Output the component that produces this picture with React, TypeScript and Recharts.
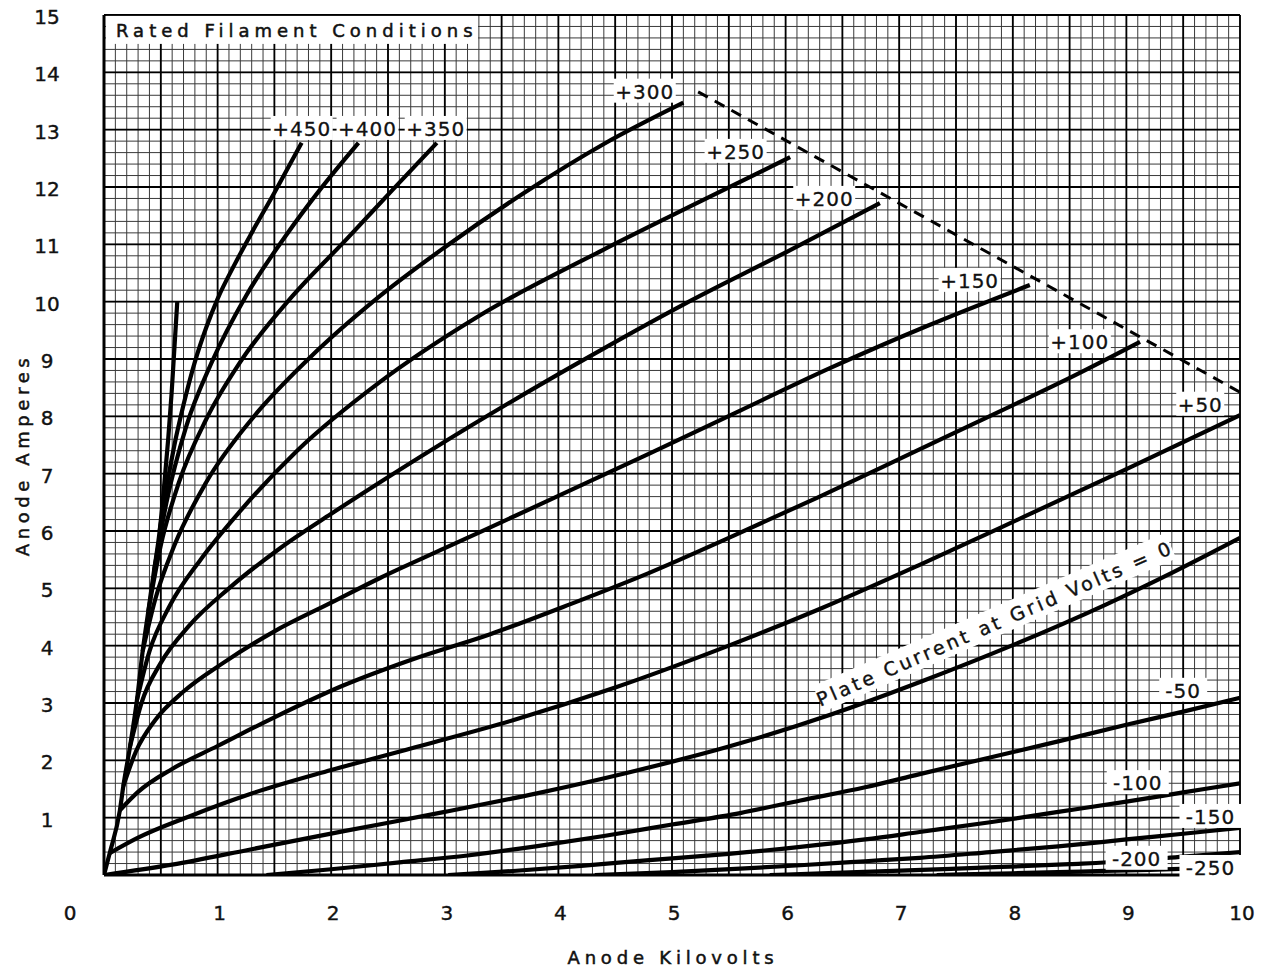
import { LineChart, Line, XAxis, YAxis, CartesianGrid, ReferenceDot } from 'recharts'

// anode kilovolts / anode amperes, one list per grid voltage
const diodeLine = [[0, 0], [0.05, 0.38], [0.14, 1.13], [0.17, 1.55], [0.23, 2.25], [0.29, 3.05], [0.34, 3.9], [0.39, 4.6], [0.44, 5.3], [0.49, 6.0], [0.53, 6.8], [0.565, 7.6], [0.595, 8.4], [0.62, 9.2], [0.645, 10.0]]
const grid450 = [[0.49, 6.0], [0.55, 6.75], [0.62, 7.5], [0.7, 8.2], [0.8, 8.95], [0.9, 9.55], [1.0, 10.05], [1.15, 10.65], [1.3, 11.2], [1.5, 11.9], [1.74, 12.77]]
const grid400 = [[0.44, 5.3], [0.55, 6.5], [0.72, 7.8], [0.95, 8.95], [1.25, 10.1], [1.6, 11.15], [1.9, 11.95], [2.24, 12.77]]
const grid350 = [[0.39, 4.6], [0.5, 5.75], [0.66, 6.85], [0.9, 7.95], [1.2, 8.95], [1.66, 10.1], [2.14, 11.1], [2.54, 11.95], [2.93, 12.77]]
const grid300 = [[0.34, 3.9], [0.45, 4.8], [0.62, 5.75], [0.9, 6.85], [1.3, 7.95], [1.8, 9.0], [2.43, 10.1], [3.0, 10.95], [3.7, 11.9], [4.4, 12.75], [5.1, 13.47]]
const grid250 = [[0.29, 3.05], [0.4, 3.9], [0.58, 4.7], [0.85, 5.5], [1.2, 6.35], [1.7, 7.4], [2.43, 8.6], [3.3, 9.75], [4.39, 10.9], [5.2, 11.7], [6.04, 12.52]]
const grid200 = [[0.23, 2.25], [0.33, 3.0], [0.5, 3.7], [0.75, 4.35], [1.1, 5.0], [1.55, 5.7], [2.0, 6.3], [2.43, 6.85], [3.2, 7.8], [4.19, 8.95], [5.1, 9.95], [6.04, 10.9], [6.83, 11.72]]
const grid150 = [[0.17, 1.55], [0.28, 2.15], [0.45, 2.7], [0.7, 3.2], [1.05, 3.7], [1.5, 4.25], [2.0, 4.75], [2.43, 5.18], [3.0, 5.7], [3.9, 6.52], [4.8, 7.35], [5.6, 8.1], [6.39, 8.84], [7.25, 9.58], [8.15, 10.29]]
const grid100 = [[0.14, 1.13], [0.3, 1.45], [0.6, 1.85], [1.0, 2.25], [1.5, 2.75], [2.1, 3.3], [2.7, 3.75], [3.4, 4.2], [4.1, 4.72], [4.8, 5.27], [5.5, 5.88], [6.3, 6.6], [7.1, 7.35], [7.9, 8.1], [8.55, 8.72], [9.12, 9.3]]
const grid50 = [[0.05, 0.38], [0.3, 0.65], [0.75, 1.02], [1.3, 1.42], [2.0, 1.83], [2.8, 2.26], [3.6, 2.7], [4.5, 3.27], [5.5, 4.0], [6.3, 4.64], [7.18, 5.41], [8.1, 6.25], [9.0, 7.08], [10, 8.02]]
const grid0 = [[0, 0], [0.6, 0.18], [1.3, 0.45], [2.1, 0.76], [3.0, 1.1], [3.8, 1.42], [4.6, 1.78], [5.5, 2.24], [6.4, 2.8], [7.2, 3.38], [8.0, 4.01], [8.8, 4.7], [9.4, 5.27], [10, 5.88]]
const gridM50 = [[1.43, 0], [2.0, 0.1], [2.6, 0.22], [3.2, 0.34], [3.8, 0.5], [4.4, 0.68], [5.0, 0.88], [5.6, 1.08], [6.13, 1.3], [6.7, 1.53], [7.18, 1.76], [7.8, 2.05], [8.4, 2.33], [9.0, 2.62], [9.5, 2.85], [10, 3.09]]
const gridM100 = [[3.03, 0], [3.6, 0.07], [4.2, 0.16], [4.8, 0.26], [5.5, 0.37], [6.13, 0.49], [6.7, 0.62], [7.18, 0.75], [7.8, 0.92], [8.4, 1.1], [9.0, 1.28], [9.5, 1.44], [10, 1.6]]
const gridM150 = [[4.32, 0], [5.0, 0.05], [5.6, 0.11], [6.13, 0.17], [6.7, 0.24], [7.18, 0.3], [7.8, 0.4], [8.4, 0.5], [9.0, 0.62], [9.5, 0.72], [10, 0.82]]
const gridM200 = [[5.86, 0], [6.5, 0.04], [7.2, 0.09], [7.9, 0.14], [8.5, 0.19], [9.0, 0.24], [9.5, 0.32], [10, 0.4]]
const gridM250 = [[7.33, 0], [8.0, 0.03], [8.6, 0.06], [9.2, 0.09], [10, 0.14]]
const dissipationLimit = [[5.23, 13.66], [10, 8.42]]

const curves = [diodeLine, grid450, grid400, grid350, grid300, grid250, grid200, grid150, grid100, grid50, grid0, gridM50, gridM100, gridM150, gridM200, gridM250]

const curveTags = ['+450', '+400', '+350', '+300', '+250', '+200', '+150', '+100', '+50', '-50', '-100', '-150', '-200', '-250']
const tagSpots = [[1.74, 13.03], [2.32, 13.03], [2.92, 13.03], [4.76, 13.68], [5.56, 12.63], [6.34, 11.81], [7.62, 10.38], [8.59, 9.31], [9.65, 8.22], [9.5, 3.23], [9.1, 1.62], [9.74, 1.03], [9.09, 0.3], [9.74, 0.14]]

const xTicks = [0, 1, 2, 3, 4, 5, 6, 7, 8, 9, 10]
const yTicks = [1, 2, 3, 4, 5, 6, 7, 8, 9, 10, 11, 12, 13, 14, 15]

const FONT = '"DejaVu Sans", sans-serif'
const INK = '#111'

const minorX = Array.from({ length: 101 }, (_, i) => i / 10)
const minorY = Array.from({ length: 76 }, (_, i) => i / 5)
const majorX = Array.from({ length: 21 }, (_, i) => i / 2)
const majorY = Array.from({ length: 16 }, (_, i) => i)

const toRows = (p: number[][]) => p.map(([v, a]) => ({ v, a }))

const gridX = (vals: number[]) => ({ xAxis, offset }: any) =>
  vals.map(v => (typeof xAxis?.scale === 'function' ? xAxis.scale(v) : offset.left + (v / 10) * offset.width))
const gridY = (vals: number[]) => ({ yAxis, offset }: any) =>
  vals.map(a => (typeof yAxis?.scale === 'function' ? yAxis.scale(a) : offset.top + offset.height - (a / 15) * offset.height))

const XTick = ({ x, payload }: any) => (
  <text x={payload.value === 0 ? x - 34 : x + 2} y={913} textAnchor="middle" dominantBaseline="central"
    fontSize={20} fontFamily={FONT} fill={INK} stroke={INK} strokeWidth={0.4}>
    {payload.value}
  </text>
)

const YTick = ({ y, payload }: any) => (
  <text x={47} y={y + 2} textAnchor="middle" dominantBaseline="central"
    fontSize={20} fontFamily={FONT} fill={INK} stroke={INK} strokeWidth={0.4}>
    {payload.value}
  </text>
)

const tag = (text: string, w: number) => (props: any) => {
  const vb = props.viewBox || {}
  const cx = vb.x + (vb.width || 0) / 2
  const cy = vb.y + (vb.height || 0) / 2
  return (
    <g>
      <rect x={cx - w / 2} y={cy - 12} width={w} height={24} fill="#fff" />
      <text x={cx} y={cy + 1} textAnchor="middle" dominantBaseline="central" fontSize={20}
        letterSpacing={1} fontFamily={FONT} fill={INK} stroke={INK} strokeWidth={0.3}>
        {text}
      </text>
    </g>
  )
}

const titleTag = (props: any) => {
  const vb = props.viewBox || {}
  const cx = vb.x + (vb.width || 0) / 2
  const cy = vb.y + (vb.height || 0) / 2
  return (
    <g>
      <rect x={cx - 186} y={cy - 14} width={372} height={28} fill="#fff" />
      <text x={cx - 176} y={cy + 1} dominantBaseline="central" fontSize={18} letterSpacing={5}
        fontFamily={FONT} fill={INK} stroke={INK} strokeWidth={0.5}>
        Rated Filament Conditions
      </text>
    </g>
  )
}

const plateTag = (props: any) => {
  const vb = props.viewBox || {}
  const cx = vb.x + (vb.width || 0) / 2
  const cy = vb.y + (vb.height || 0) / 2
  return (
    <g transform={`rotate(-23.5 ${cx} ${cy})`}>
      <rect x={cx - 192} y={cy - 14} width={384} height={28} fill="#fff" />
      <text x={cx} y={cy + 1} textAnchor="middle" dominantBaseline="central" fontSize={19}
        letterSpacing={3.2} fontFamily={FONT} fill={INK} stroke={INK} strokeWidth={0.4}>
        Plate Current at Grid Volts = 0
      </text>
    </g>
  )
}

const yTitle = (props: any) => {
  const vb = props.viewBox || {}
  const x = vb.x + 22
  const y = vb.y + vb.height / 2 + 10
  return (
    <text x={x} y={y} transform={`rotate(-90 ${x} ${y})`} textAnchor="middle" dominantBaseline="central"
      fontSize={18} letterSpacing={4.6} fontFamily={FONT} fill={INK} stroke={INK} strokeWidth={0.5}>
      Anode Amperes
    </text>
  )
}

const xTitle = (props: any) => {
  const vb = props.viewBox || {}
  const x = vb.x + vb.width / 2 + 1
  const y = vb.y + 82
  return (
    <text x={x} y={y} textAnchor="middle" dominantBaseline="central"
      fontSize={18} letterSpacing={4.8} fontFamily={FONT} fill={INK} stroke={INK} strokeWidth={0.5}>
      Anode Kilovolts
    </text>
  )
}

export default function App() {
  return (
    <div style={{ position: 'absolute', left: 0, top: 0, background: '#fff' }}>
      <LineChart width={1268} height={971} margin={{ top: 15, right: 28, left: 0, bottom: 0 }}>
        <CartesianGrid stroke="#3a3a3a" strokeWidth={1}
          verticalCoordinatesGenerator={gridX(minorX)} horizontalCoordinatesGenerator={gridY(minorY)} />
        <CartesianGrid stroke="#000" strokeWidth={1.8}
          verticalCoordinatesGenerator={gridX(majorX)} horizontalCoordinatesGenerator={gridY(majorY)} />
        <XAxis dataKey="v" type="number" domain={[0, 10]} ticks={xTicks} interval={0} height={96}
          allowDataOverflow axisLine={{ stroke: '#000', strokeWidth: 3 }} tickLine={false}
          tick={<XTick />} label={{ content: xTitle }} />
        <YAxis dataKey="a" type="number" domain={[0, 15]} ticks={yTicks} interval={0} width={104}
          allowDataOverflow axisLine={{ stroke: '#000', strokeWidth: 3 }} tickLine={false}
          tick={<YTick />} label={{ content: yTitle }} />
        {curves.map((c, i) => (
          <Line key={i} data={toRows(c)} dataKey="a" type="monotone" stroke="#000" strokeWidth={4.2}
            dot={false} activeDot={false} isAnimationActive={false} />
        ))}
        <Line data={toRows(dissipationLimit)} dataKey="a" type="linear" stroke="#000" strokeWidth={3}
          strokeDasharray="11 8" dot={false} activeDot={false} isAnimationActive={false} />
        {curveTags.map((t, i) => (
          <ReferenceDot key={t} x={tagSpots[i][0]} y={tagSpots[i][1]} r={1} fill="none" stroke="none"
            label={tag(t, t.length > 3 ? 62 : 48)} />
        ))}
        <ReferenceDot x={1.655} y={14.74} r={1} fill="none" stroke="none" label={titleTag} />
        <ReferenceDot x={7.84} y={4.41} r={1} fill="none" stroke="none" label={plateTag} />
      </LineChart>
    </div>
  )
}
